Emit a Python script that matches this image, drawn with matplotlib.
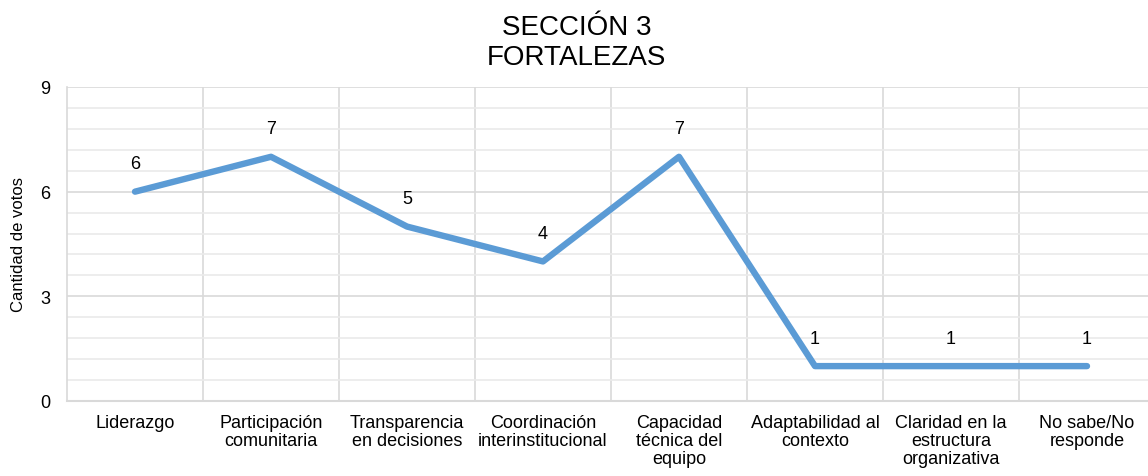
import numpy as np
import matplotlib.pyplot as plt
from matplotlib.ticker import MultipleLocator

categories = ["Liderazgo", "Participación\ncomunitaria", "Transparencia\nen decisiones",
              "Coordinación\ninterinstitucional", "Capacidad\ntécnica del\nequipo",
              "Adaptabilidad al\ncontexto", "Claridad en la\nestructura\norganizativa",
              "No sabe/No\nresponde"]
votes = [6, 7, 5, 4, 7, 1, 1, 1]
y_ticks = [0, 3, 6, 9]

plt.rcParams['font.family'] = ['Liberation Sans', 'DejaVu Sans']

fig = plt.figure(figsize=(11.48, 4.77), dpi=100)
ax = fig.add_axes([67 / 1148, 1 - 402 / 477, 1088 / 1148, 314 / 477])

x = np.arange(len(categories))
ax.plot(x, votes, color='#5B9BD5', linewidth=4.6, solid_capstyle='round', solid_joinstyle='round', zorder=3)
for xi, v in zip(x, votes):
    ax.annotate(str(v), (xi, v), xytext=(0, 14), textcoords='offset points',
                ha='center', va='bottom', fontsize=13, color='#000000')

ax.set_xlim(-0.5, len(categories) - 0.5)
ax.set_ylim(0, 9)
ax.set_yticks(y_ticks)
ax.yaxis.set_minor_locator(MultipleLocator(0.6))
ax.set_xticks(x)
ax.set_xticklabels(categories, fontsize=13, linespacing=1.1)
ax.tick_params(axis='y', labelsize=13, length=0, pad=12, which='both')
ax.tick_params(axis='x', length=0, pad=9)

ax.grid(axis='y', which='major', color='#D9D9D9', linewidth=1.2, zorder=0)
ax.grid(axis='y', which='minor', color='#EAEAEA', linewidth=1.2, zorder=0)
for b in np.arange(0.5, len(categories) - 0.5, 1):
    ax.axvline(b, color='#D9D9D9', linewidth=1.2, zorder=0)

for s in ['top', 'right']:
    ax.spines[s].set_visible(False)
ax.spines['left'].set_color('#D9D9D9')
ax.spines['bottom'].set_color('#D9D9D9')
ax.spines['left'].set_linewidth(1.2)
ax.spines['bottom'].set_linewidth(1.5)

ax.set_ylabel('Cantidad de votos', fontsize=12, labelpad=10)
fig.text(0.502, 1 - 43 / 477, 'SECCIÓN 3\nFORTALEZAS', ha='center', va='center',
         fontsize=20, linespacing=1.2)

fig.savefig('out.png', dpi=100)
